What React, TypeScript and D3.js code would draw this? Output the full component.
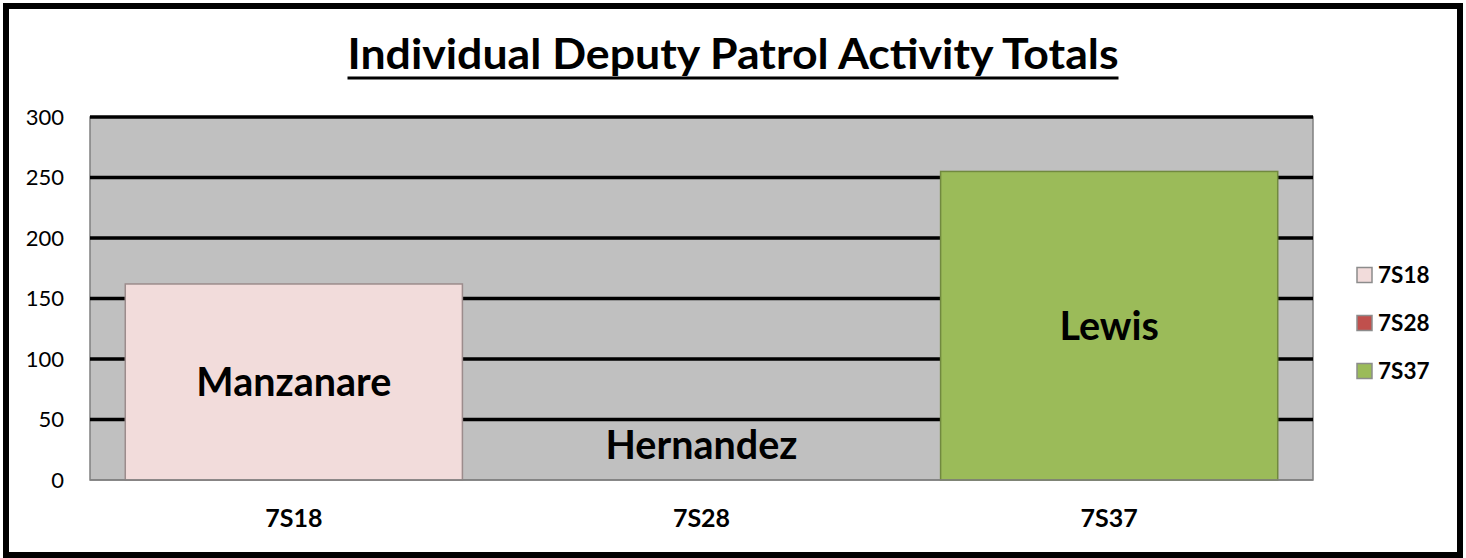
import { useEffect, useRef } from "react";
import * as d3 from "d3";

const categories = ["7S18", "7S28", "7S37"];
const deputies = ["Manzanare", "Hernandez", "Lewis"];
const totals = [162, 0, 255];
const barColors = ["#F2DCDB", "#C0504D", "#9BBB59"];
const barStrokes = ["#9C8C8C", "#8C3A38", "#71893F"];
const yTicks = [0, 50, 100, 150, 200, 250, 300];

const App = () => {
  const svgRef = useRef<SVGSVGElement>(null);

  useEffect(() => {
    if (!svgRef.current) return;
    const svg = d3.select(svgRef.current);
    svg.selectAll("*").remove();

    const W = 1466;
    const H = 558;
    const font = "Lato, 'Open Sans', sans-serif";
    const margin = { top: 117, right: 153, bottom: 78, left: 90 };
    const width = W - margin.left - margin.right;
    const height = H - margin.top - margin.bottom;

    svg.attr("width", W).attr("height", H);

    // outer frame
    svg
      .append("rect")
      .attr("x", 6)
      .attr("y", 6)
      .attr("width", W - 12)
      .attr("height", H - 9)
      .attr("fill", "#fff")
      .attr("stroke", "#000")
      .attr("stroke-width", 6);

    // title, underline drawn by hand so it sits where Excel put it
    const title = svg
      .append("text")
      .attr("x", 733)
      .attr("y", 69)
      .attr("text-anchor", "middle")
      .attr("font-family", font)
      .attr("font-weight", "bold")
      .attr("font-size", 42)
      .attr("textLength", 771)
      .attr("lengthAdjust", "spacingAndGlyphs")
      .text("Individual Deputy Patrol Activity Totals");
    const tw = (title.node() as SVGTextElement).getComputedTextLength();
    svg
      .append("line")
      .attr("x1", 733 - tw / 2)
      .attr("x2", 733 + tw / 2)
      .attr("y1", 78)
      .attr("y2", 78)
      .attr("stroke", "#000")
      .attr("stroke-width", 3);

    const chart = svg
      .append("g")
      .attr("transform", `translate(${margin.left},${margin.top})`);

    const x = d3
      .scaleBand()
      .domain(categories)
      .range([0, width])
      .paddingInner(0.173)
      .paddingOuter(0.0865);

    const y = d3.scaleLinear().domain([0, 300]).range([height, 0]);

    // plot background
    chart
      .append("rect")
      .attr("width", width)
      .attr("height", height)
      .attr("fill", "#C0C0C0")
      .attr("stroke", "#808080")
      .attr("stroke-width", 1.5);

    // gridlines
    chart
      .selectAll(".grid")
      .data(yTicks.filter((t) => t > 0))
      .join("line")
      .attr("x1", 0)
      .attr("x2", width)
      .attr("y1", (d) => y(d))
      .attr("y2", (d) => y(d))
      .attr("stroke", "#000")
      .attr("stroke-width", 3.5);

    // bars
    chart
      .selectAll(".bar")
      .data(totals)
      .join("rect")
      .attr("x", (_d, i) => x(categories[i])!)
      .attr("y", (d) => y(d))
      .attr("width", x.bandwidth())
      .attr("height", (d) => height - y(d))
      .attr("fill", (_d, i) => barColors[i])
      .attr("stroke", (_d, i) => barStrokes[i])
      .attr("stroke-width", (d) => (d > 0 ? 1.5 : 0));

    // data labels
    chart
      .selectAll(".label")
      .data(totals)
      .join("text")
      .attr("x", (_d, i) => x(categories[i])! + x.bandwidth() / 2)
      .attr("y", (d) => (d > 0 ? (y(d) + height) / 2 : height - 35))
      .attr("dy", "0.36em")
      .attr("text-anchor", "middle")
      .attr("font-family", font)
      .attr("font-weight", "bold")
      .attr("font-size", 39.5)
      .text((_d, i) => deputies[i]);

    // baseline
    chart
      .append("line")
      .attr("x1", 0)
      .attr("x2", width)
      .attr("y1", height)
      .attr("y2", height)
      .attr("stroke", "#808080")
      .attr("stroke-width", 1.5);

    // y axis
    const yAxis = chart
      .append("g")
      .call(d3.axisLeft(y).tickValues(yTicks).tickSize(0).tickPadding(26));
    yAxis.select(".domain").remove();
    yAxis
      .selectAll("text")
      .attr("font-family", font)
      .attr("font-size", 22)
      .attr("fill", "#000");

    // x axis
    const xAxis = chart
      .append("g")
      .attr("transform", `translate(0,${height})`)
      .call(d3.axisBottom(x).tickSize(0).tickPadding(29));
    xAxis.select(".domain").remove();
    xAxis
      .selectAll("text")
      .attr("font-family", font)
      .attr("font-weight", "bold")
      .attr("font-size", 25)
      .attr("fill", "#000");

    // legend
    const legend = svg
      .append("g")
      .attr("transform", "translate(1357,275)");
    const item = legend
      .selectAll("g")
      .data(categories)
      .join("g")
      .attr("transform", (_d, i) => `translate(0,${i * 48})`);
    item
      .append("rect")
      .attr("x", 0)
      .attr("y", -7.5)
      .attr("width", 15)
      .attr("height", 15)
      .attr("fill", (_d, i) => barColors[i])
      .attr("stroke", "#8C8C8C")
      .attr("stroke-width", 1.5);
    item
      .append("text")
      .attr("x", 21)
      .attr("dy", "0.36em")
      .attr("font-family", font)
      .attr("font-weight", "bold")
      .attr("font-size", 22.5)
      .text((d) => d);
  }, []);

  return <svg ref={svgRef} style={{ position: "absolute", left: 0, top: 0 }}></svg>;
};

export default App;
